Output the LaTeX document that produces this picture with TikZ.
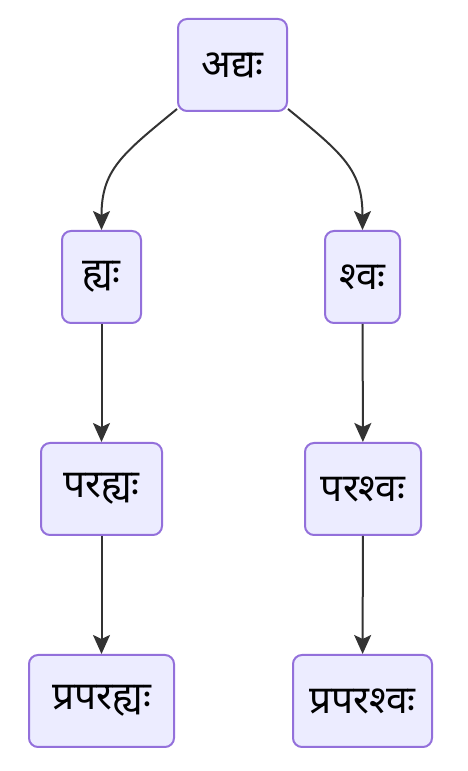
\documentclass[tikz,border=0pt]{standalone}
\usepackage{fontspec}
\newfontfamily\deva[Script=Devanagari]{Noto Sans}
\usetikzlibrary{arrows.meta}
\definecolor{nodefill}{HTML}{ECECFF}
\definecolor{nodeborder}{HTML}{9370DB}
\definecolor{edgecol}{HTML}{333333}
\begin{document}
\begin{tikzpicture}[x=1pt,y=1pt,
  box/.style={draw=nodeborder, fill=nodefill, line width=2pt, rounded corners=9pt,
    minimum height=92pt, inner sep=0pt, font=\deva\fontsize{39}{46}\selectfont, text=black},
  edge/.style={draw=edgecol, line width=2pt, -{Stealth[length=19pt,width=17pt,inset=4pt]}}]
\useasboundingbox (0,0) rectangle (468,771);
\node[box, minimum width=109pt] (a) at (232.5,706) {अद्यः};
\node[box, minimum width=79pt] (h) at (101.5,494) {ह्यः};
\node[box, minimum width=75pt] (s) at (362.5,494) {श्वः};
\node[box, minimum width=121pt] (ph) at (101.5,282) {परह्यः};
\node[box, minimum width=116pt] (ps) at (363,282) {परश्वः};
\node[box, minimum width=145pt] (pph) at (101.5,70) {प्रपरह्यः};
\node[box, minimum width=139pt] (pps) at (362.5,70) {प्रपरश्वः};
\draw[edge] ([yshift=3pt]a.south west) .. controls +(-55,-45) and +(0,60) .. (h.north);
\draw[edge] ([yshift=3pt]a.south east) .. controls +(55,-45) and +(0,60) .. (s.north);
\draw[edge] (h) -- (ph);
\draw[edge] (s) -- (ps);
\draw[edge] (ph) -- (pph);
\draw[edge] (ps) -- (pps);
\end{tikzpicture}
\end{document}
